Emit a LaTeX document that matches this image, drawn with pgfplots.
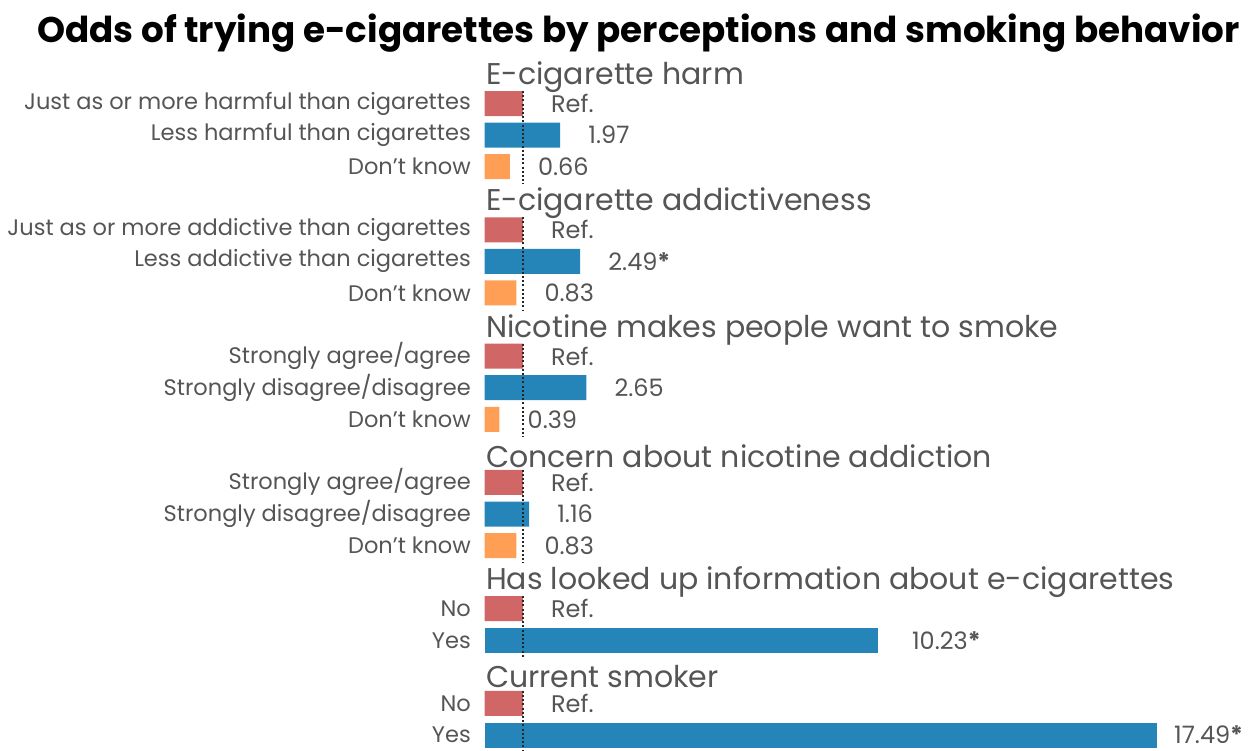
\documentclass[border=0pt]{standalone}
\usepackage{fontspec}
\setmainfont{Poppins}
\usepackage{pgfplots}
\pgfplotsset{compat=1.18}
\definecolor{cref}{HTML}{D06666}
\definecolor{cless}{HTML}{2685B8}
\definecolor{cdk}{HTML}{FE9F55}
\definecolor{tgray}{HTML}{555555}
\pgfplotsset{vlab/.style={nodes near coords, point meta=explicit symbolic,
  nodes near coords style={font=\fontsize{24}{28}\selectfont, text=tgray, inner sep=0pt, xshift=#1, anchor=west}}}
\begin{document}
\begin{tikzpicture}
\begin{axis}[
  at={(484.5pt,0.2pt)}, anchor=south west,
  scale only axis, width=769pt, height=694.6pt,
  xmin=0, xmax=20, ymin=-0.5, ymax=21.5, y dir=reverse,
  axis lines*=left, axis line style={draw=none},
  xtick=\empty,
  ytick={1,2,3,5,6,7,9,10,11,13,14,15,17,18,20,21},
  yticklabels={Just as or more harmful than cigarettes,Less harmful than cigarettes,Don't know,
    Just as or more addictive than cigarettes,Less addictive than cigarettes,Don't know,
    Strongly agree/agree,Strongly disagree/disagree,Don't know,
    Strongly agree/agree,Strongly disagree/disagree,Don't know,
    No,Yes,No,Yes},
  major tick length=0pt,
  yticklabel style={font=\fontsize{22.5}{26}\selectfont, text=tgray, inner sep=0pt, xshift=-13.5pt},
  clip=false,
]
\addplot[xbar, bar width=25pt, bar shift=0pt, fill=cref, draw=none, vlab=28pt]
  table[col sep=comma, meta=label]{
x,y,label
1,1,Ref.
1,5,Ref.
1,9,Ref.
1,13,Ref.
1,17,Ref.
1,20,Ref.
};
\addplot[xbar, bar width=25pt, bar shift=0pt, fill=cless, draw=none, vlab=28pt]
  table[col sep=comma, meta=label]{
x,y,label
1.97,2,1.97
2.49,6,2.49\textbf{*}
2.65,10,2.65
1.16,14,1.16
};
\addplot[xbar, bar width=25pt, bar shift=0pt, fill=cless, draw=none, vlab=34pt]
  table[col sep=comma, meta=label]{
x,y,label
10.23,18,10.23\textbf{*}
};
\addplot[xbar, bar width=25pt, bar shift=0pt, fill=cless, draw=none, vlab=17pt]
  table[col sep=comma, meta=label]{
x,y,label
17.49,21,17.49\textbf{*}
};
\addplot[xbar, bar width=25pt, bar shift=0pt, fill=cdk, draw=none, vlab=28pt]
  table[col sep=comma, meta=label]{
x,y,label
0.66,3,0.66
0.83,7,0.83
0.39,11,0.39
0.83,15,0.83
};
\addplot[black!85, dash pattern=on 2pt off 2.2pt, line width=2pt, unbounded coords=jump, mark=none]
  coordinates {(1,0.6) (1,3.55) (1,nan) (1,4.6) (1,7.55) (1,nan) (1,8.6) (1,11.55) (1,nan)
    (1,12.6) (1,15.55) (1,nan) (1,16.6) (1,18.55) (1,nan) (1,19.6) (1,21.5)};
\addplot[draw=none, mark=none,
  nodes near coords, point meta=explicit symbolic,
  nodes near coords style={font=\fontsize{30}{34}\selectfont, text=tgray, inner sep=0pt, xshift=1.5pt, yshift=-5pt, anchor=west}]
  table[col sep=comma, meta=label]{
x,y,label
0,0,E-cigarette harm
0,4,E-cigarette addictiveness
0,8,Nicotine makes people want to smoke
0,12,Concern about nicotine addiction
0,16,Has looked up information about e-cigarettes
0,19,Current smoker
};
\end{axis}
\node[font=\bfseries\fontsize{35.7}{40}\selectfont, text=black] at (638.5pt,718pt) {Odds of trying e-cigarettes by perceptions and smoking behavior};
\pgfresetboundingbox
\useasboundingbox (0,0) rectangle (1252pt,751pt);
\end{tikzpicture}
\end{document}
